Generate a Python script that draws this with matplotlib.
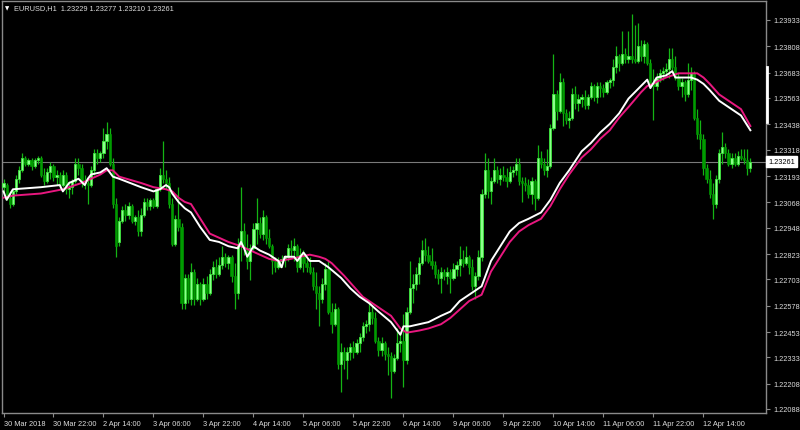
import matplotlib
matplotlib.use("Agg")
import matplotlib.pyplot as plt
import matplotlib.transforms as mtransforms
from matplotlib.lines import Line2D
import numpy as np

# ---------------- data (EURUSD H1, 30 Mar 06:00 -> 13 Apr 05:00) ----------------
opens = [
    1.2314, 1.2315, 1.2309, 1.2306, 1.2312, 1.2318, 1.2322, 1.2328, 1.2325, 1.2327,
    1.2324, 1.2327, 1.2328, 1.2320, 1.2317, 1.2321, 1.2324, 1.2319, 1.2320, 1.2315,
    1.2320, 1.2313, 1.2314, 1.2317, 1.2325, 1.2323, 1.2317, 1.2316, 1.2315, 1.2322,
    1.2330, 1.2328, 1.2330, 1.2336, 1.2339, 1.2325, 1.2306, 1.2288, 1.2298, 1.2303,
    1.2301, 1.2305, 1.2298, 1.2300, 1.2293, 1.2301, 1.2307, 1.2305, 1.2308, 1.2305,
    1.2313, 1.2320, 1.2318, 1.2316, 1.2306, 1.2287, 1.2299, 1.2295, 1.2259, 1.2271,
    1.2261, 1.2274, 1.2261, 1.2268, 1.2261, 1.2268, 1.2264, 1.2273, 1.2276, 1.2273,
    1.2277, 1.2281, 1.2278, 1.2281, 1.2272, 1.2264, 1.2287, 1.2293, 1.2285, 1.2279,
    1.2285, 1.2294, 1.2297, 1.2292, 1.2300, 1.2290, 1.2286, 1.2279, 1.2276, 1.2279,
    1.2280, 1.2281, 1.2285, 1.2284, 1.2286, 1.2276, 1.2282, 1.2278, 1.2276, 1.2274,
    1.2267, 1.2264, 1.2261, 1.2268, 1.2275, 1.2255, 1.2249, 1.2256, 1.2230, 1.2236,
    1.2232, 1.2236, 1.2238, 1.2236, 1.2240, 1.2243, 1.2248, 1.2249, 1.2255, 1.2252,
    1.2241, 1.2237, 1.2240, 1.2235, 1.2234, 1.2227, 1.2233, 1.2240, 1.2241, 1.2232,
    1.2255, 1.2266, 1.2268, 1.2273, 1.2278, 1.2284, 1.2282, 1.2279, 1.2277, 1.2273,
    1.2271, 1.2274, 1.2272, 1.2274, 1.2271, 1.2275, 1.2277, 1.2280, 1.2278, 1.2281,
    1.2276, 1.2267, 1.2272, 1.2281, 1.2311, 1.2322, 1.2312, 1.2317, 1.2322, 1.2318,
    1.2320, 1.2319, 1.2317, 1.2321, 1.2322, 1.2325, 1.2317, 1.2316, 1.2315, 1.2311,
    1.2317, 1.2309, 1.2328, 1.2325, 1.2322, 1.2324, 1.2342, 1.2358, 1.2350, 1.2364,
    1.2349, 1.2346, 1.2347, 1.2358, 1.2354, 1.2356, 1.2357, 1.2353, 1.2357, 1.2362,
    1.2357, 1.2362, 1.2361, 1.2359, 1.2364, 1.2365, 1.2371, 1.2376, 1.2373, 1.2377,
    1.2375, 1.2376, 1.2375, 1.2374, 1.2381, 1.2376, 1.2382, 1.2373, 1.2363, 1.2362,
    1.2366, 1.2368, 1.2369, 1.2370, 1.2375, 1.2371, 1.2366, 1.2362, 1.2364, 1.2358,
    1.2365, 1.2368, 1.2347, 1.2339, 1.2337, 1.2323, 1.2318, 1.2311, 1.2306, 1.2318,
    1.2330, 1.2333, 1.2330, 1.2325, 1.2328, 1.2325, 1.2329, 1.2328, 1.2327, 1.23229,
]
highs = [
    1.2318, 1.2316, 1.2312, 1.2313, 1.2320, 1.2324, 1.2330, 1.2329, 1.2328, 1.2328,
    1.2328, 1.2329, 1.2329, 1.2323, 1.2323, 1.2326, 1.2325, 1.2322, 1.2321, 1.2322,
    1.2321, 1.2317, 1.2318, 1.2328, 1.2328, 1.2325, 1.2320, 1.2319, 1.2324, 1.2332,
    1.2332, 1.2331, 1.2342, 1.2345, 1.2342, 1.2328, 1.2309, 1.2300, 1.2305, 1.2306,
    1.2307, 1.2306, 1.2301, 1.2303, 1.2304, 1.2309, 1.2309, 1.2309, 1.2309, 1.2314,
    1.2323, 1.2336, 1.2322, 1.2319, 1.2309, 1.2301, 1.2314, 1.2297, 1.2273, 1.2273,
    1.2278, 1.2275, 1.2271, 1.2269, 1.2271, 1.2272, 1.2275, 1.2279, 1.2280, 1.2281,
    1.2286, 1.2283, 1.2282, 1.2282, 1.2278, 1.2290, 1.2314, 1.2297, 1.2292, 1.2287,
    1.2297, 1.2309, 1.2300, 1.2303, 1.2301, 1.2294, 1.2287, 1.2281, 1.2281, 1.2282,
    1.2282, 1.2287, 1.2289, 1.2290, 1.2287, 1.2285, 1.2284, 1.2280, 1.2281, 1.2276,
    1.2274, 1.2267, 1.2271, 1.2278, 1.2279, 1.2259, 1.2259, 1.2257, 1.2240, 1.2238,
    1.2238, 1.2240, 1.2241, 1.2242, 1.2245, 1.2250, 1.2251, 1.2259, 1.2258, 1.2255,
    1.2243, 1.2243, 1.2241, 1.2238, 1.2236, 1.2235, 1.2247, 1.2245, 1.2254, 1.2257,
    1.2279, 1.2273, 1.2276, 1.2281, 1.2289, 1.2290, 1.2286, 1.2285, 1.2279, 1.2275,
    1.2276, 1.2275, 1.2276, 1.2275, 1.2278, 1.2279, 1.2286, 1.2284, 1.2286, 1.2282,
    1.2280, 1.2274, 1.2284, 1.2313, 1.2330, 1.2328, 1.2319, 1.2328, 1.2324, 1.2323,
    1.2324, 1.2323, 1.2324, 1.2324, 1.2328, 1.2328, 1.2319, 1.2319, 1.2318, 1.2319,
    1.2318, 1.2334, 1.2331, 1.2328, 1.2332, 1.2344, 1.2377, 1.2360, 1.2368, 1.2366,
    1.2351, 1.2350, 1.2361, 1.2362, 1.2358, 1.2358, 1.2360, 1.2358, 1.2364, 1.2363,
    1.2364, 1.2364, 1.2363, 1.2365, 1.2366, 1.2375, 1.2381, 1.2377, 1.2388, 1.2380,
    1.2388, 1.2396, 1.2391, 1.2392, 1.2384, 1.2384, 1.2383, 1.2375, 1.2370, 1.2368,
    1.2370, 1.2371, 1.2373, 1.2380, 1.2380, 1.2376, 1.2368, 1.2366, 1.2365, 1.2373,
    1.2371, 1.2369, 1.2351, 1.2346, 1.2339, 1.2325, 1.2322, 1.2316, 1.2320, 1.2332,
    1.2340, 1.2335, 1.2332, 1.2330, 1.2330, 1.2331, 1.2332, 1.2332, 1.2332, 1.23277,
]
lows = [
    1.2311, 1.2308, 1.2304, 1.2305, 1.2311, 1.2316, 1.2321, 1.2324, 1.2324, 1.2322,
    1.2323, 1.2325, 1.2319, 1.2315, 1.2316, 1.2318, 1.2317, 1.2315, 1.2313, 1.2314,
    1.2311, 1.2309, 1.2311, 1.2316, 1.2320, 1.2314, 1.2313, 1.2306, 1.2314, 1.2320,
    1.2325, 1.2326, 1.2328, 1.2332, 1.2324, 1.2304, 1.2281, 1.2286, 1.2297, 1.2298,
    1.2299, 1.2297, 1.2296, 1.2291, 1.2291, 1.2300, 1.2303, 1.2303, 1.2304, 1.2304,
    1.2312, 1.2316, 1.2313, 1.2304, 1.2286, 1.2286, 1.2293, 1.2256, 1.2256, 1.2259,
    1.2258, 1.2258, 1.2260, 1.2258, 1.2260, 1.2261, 1.2263, 1.2270, 1.2271, 1.2272,
    1.2275, 1.2276, 1.2275, 1.2269, 1.2256, 1.2261, 1.2279, 1.2282, 1.2275, 1.2270,
    1.2284, 1.2287, 1.2290, 1.2289, 1.2287, 1.2285, 1.2273, 1.2274, 1.2275, 1.2276,
    1.2276, 1.2279, 1.2281, 1.2279, 1.2274, 1.2275, 1.2274, 1.2274, 1.2273, 1.2265,
    1.2256, 1.2248, 1.2259, 1.2265, 1.2254, 1.2245, 1.2248, 1.2228, 1.2217, 1.2228,
    1.2223, 1.2232, 1.2233, 1.2235, 1.2236, 1.2241, 1.2245, 1.2246, 1.2249, 1.2240,
    1.2234, 1.2234, 1.2232, 1.2225, 1.2214, 1.2226, 1.2232, 1.2236, 1.2219, 1.2230,
    1.2254, 1.2259, 1.2265, 1.2268, 1.2277, 1.2279, 1.2278, 1.2275, 1.2271, 1.2268,
    1.2264, 1.2270, 1.2268, 1.2264, 1.2270, 1.2272, 1.2272, 1.2276, 1.2277, 1.2273,
    1.2265, 1.2261, 1.2270, 1.2279, 1.2309, 1.2309, 1.2306, 1.2316, 1.2316, 1.2315,
    1.2317, 1.2314, 1.2316, 1.2319, 1.2320, 1.2315, 1.2307, 1.2312, 1.2309, 1.2306,
    1.2303, 1.2308, 1.2323, 1.2320, 1.2319, 1.2323, 1.2341, 1.2346, 1.2349, 1.2343,
    1.2344, 1.2342, 1.2346, 1.2351, 1.2350, 1.2352, 1.2351, 1.2351, 1.2356, 1.2355,
    1.2354, 1.2357, 1.2357, 1.2358, 1.2361, 1.2362, 1.2368, 1.2369, 1.2372, 1.2373,
    1.2373, 1.2373, 1.2373, 1.2373, 1.2374, 1.2373, 1.2372, 1.2361, 1.2346, 1.2360,
    1.2364, 1.2365, 1.2367, 1.2366, 1.2369, 1.2365, 1.2360, 1.2357, 1.2355, 1.2357,
    1.2360, 1.2346, 1.2337, 1.2332, 1.2320, 1.2316, 1.2309, 1.2299, 1.2304, 1.2316,
    1.2325, 1.2328, 1.2324, 1.2323, 1.2324, 1.2324, 1.2327, 1.2325, 1.2320, 1.23210,
]
closes = [
    1.2316, 1.2309, 1.2306, 1.2312, 1.2318, 1.2322, 1.2328, 1.2325, 1.2327, 1.2324,
    1.2327, 1.2328, 1.2320, 1.2317, 1.2321, 1.2324, 1.2319, 1.2320, 1.2315, 1.2320,
    1.2313, 1.2314, 1.2317, 1.2325, 1.2323, 1.2317, 1.2316, 1.2315, 1.2322, 1.2330,
    1.2328, 1.2330, 1.2336, 1.2339, 1.2325, 1.2306, 1.2286, 1.2298, 1.2303, 1.2301,
    1.2305, 1.2298, 1.2300, 1.2293, 1.2301, 1.2307, 1.2305, 1.2308, 1.2305, 1.2313,
    1.2320, 1.2318, 1.2316, 1.2306, 1.2287, 1.2299, 1.2295, 1.2259, 1.2271, 1.2261,
    1.2274, 1.2261, 1.2268, 1.2261, 1.2268, 1.2264, 1.2273, 1.2276, 1.2273, 1.2277,
    1.2281, 1.2278, 1.2281, 1.2272, 1.2264, 1.2287, 1.2293, 1.2285, 1.2279, 1.2285,
    1.2294, 1.2297, 1.2292, 1.2300, 1.2290, 1.2286, 1.2279, 1.2276, 1.2279, 1.2280,
    1.2281, 1.2285, 1.2284, 1.2286, 1.2276, 1.2282, 1.2278, 1.2276, 1.2274, 1.2267,
    1.2264, 1.2261, 1.2268, 1.2275, 1.2255, 1.2249, 1.2256, 1.2230, 1.2236, 1.2232,
    1.2236, 1.2238, 1.2236, 1.2240, 1.2243, 1.2248, 1.2249, 1.2255, 1.2252, 1.2241,
    1.2237, 1.2240, 1.2235, 1.2234, 1.2227, 1.2233, 1.2240, 1.2241, 1.2232, 1.2255,
    1.2266, 1.2268, 1.2273, 1.2278, 1.2284, 1.2282, 1.2279, 1.2277, 1.2273, 1.2271,
    1.2274, 1.2272, 1.2274, 1.2271, 1.2275, 1.2277, 1.2280, 1.2278, 1.2281, 1.2276,
    1.2267, 1.2272, 1.2281, 1.2311, 1.2322, 1.2312, 1.2317, 1.2322, 1.2318, 1.2320,
    1.2319, 1.2317, 1.2321, 1.2322, 1.2325, 1.2317, 1.2316, 1.2315, 1.2311, 1.2317,
    1.2309, 1.2328, 1.2325, 1.2322, 1.2324, 1.2342, 1.2358, 1.2350, 1.2364, 1.2349,
    1.2346, 1.2347, 1.2358, 1.2354, 1.2356, 1.2357, 1.2353, 1.2357, 1.2362, 1.2357,
    1.2362, 1.2361, 1.2359, 1.2364, 1.2365, 1.2371, 1.2376, 1.2373, 1.2377, 1.2375,
    1.2376, 1.2375, 1.2374, 1.2381, 1.2376, 1.2382, 1.2373, 1.2363, 1.2362, 1.2366,
    1.2368, 1.2369, 1.2370, 1.2375, 1.2371, 1.2366, 1.2362, 1.2364, 1.2358, 1.2365,
    1.2368, 1.2347, 1.2339, 1.2337, 1.2323, 1.2318, 1.2311, 1.2306, 1.2318, 1.2330,
    1.2333, 1.2330, 1.2325, 1.2328, 1.2325, 1.2329, 1.2328, 1.2327, 1.2323, 1.23261,
]

# moving averages (bar index, price)
ma_white_bars = [0, 1, 3, 12, 18, 19, 21, 24, 26, 27, 28, 31, 33, 34, 35, 37, 44, 48, 50, 52,
                 53, 54, 56, 58, 60, 63, 66, 69, 72, 75, 76, 77, 78, 80, 82, 85, 88, 89, 90, 93,
                 94, 96, 98, 101, 104, 108, 111, 114, 117, 120, 124, 127, 128, 130, 133, 136,
                 140, 143, 146, 149, 152, 153, 156, 159, 162, 165, 168, 172, 175, 178, 181,
                 185, 188, 191, 194, 197, 200, 204, 206, 207, 209, 212, 214, 215, 220, 222,
                 224, 226, 229, 232, 236, 239]
ma_white = [1.2312, 1.2308, 1.2313, 1.2314, 1.2315, 1.2312, 1.2316, 1.2318, 1.2315, 1.2318,
            1.2320, 1.2321, 1.2323, 1.2321, 1.2319, 1.2318, 1.2314, 1.2312, 1.2313, 1.2315,
            1.2314, 1.2311, 1.2307, 1.2304, 1.2302, 1.2295, 1.2289, 1.2288, 1.2286, 1.2285,
            1.2288, 1.2285, 1.2281, 1.2286, 1.2284, 1.2282, 1.2279, 1.2276, 1.2281, 1.2281,
            1.2279, 1.2283, 1.2279, 1.2279, 1.2276, 1.2271, 1.2266, 1.2262, 1.2259, 1.2255,
            1.2250, 1.2244, 1.2248, 1.2248, 1.2249, 1.2250, 1.2253, 1.2255, 1.2260, 1.2263,
            1.2266, 1.2267, 1.2279, 1.2286, 1.2293, 1.2297, 1.2299, 1.2302, 1.2308, 1.2316,
            1.2322, 1.2331, 1.2335, 1.2340, 1.2344, 1.2349, 1.2356, 1.2362, 1.2365, 1.2361,
            1.2366, 1.2367, 1.2369, 1.2366, 1.2366, 1.2365, 1.2363, 1.2360, 1.2355, 1.2352,
            1.2348, 1.2341]

ma_pink_bars = [0, 3, 12, 19, 21, 25, 28, 31, 33, 35, 37, 44, 48, 52, 54, 56, 58, 60, 63, 66,
                69, 72, 76, 79, 82, 85, 88, 92, 95, 98, 101, 103, 105, 109, 112, 115, 118, 122,
                124, 127, 129, 133, 136, 140, 143, 146, 149, 153, 156, 159, 162, 165, 168, 172,
                175, 178, 181, 185, 188, 191, 194, 197, 200, 204, 206, 208, 209, 212, 214, 216,
                220, 222, 224, 226, 229, 232, 236, 239]
ma_pink = [1.2309, 1.2310, 1.2311, 1.2313, 1.2314, 1.2316, 1.2318, 1.2320, 1.2322, 1.2322,
           1.2319, 1.2316, 1.2314, 1.2313, 1.2312, 1.2309, 1.2307, 1.2306, 1.2299, 1.2292,
           1.2290, 1.2288, 1.2286, 1.2284, 1.2282, 1.2280, 1.2279, 1.2280, 1.2281, 1.2282,
           1.2281, 1.2280, 1.2278, 1.2272, 1.2267, 1.2262, 1.2259, 1.2255, 1.2253, 1.2247,
           1.2245, 1.2246, 1.2247, 1.2249, 1.2252, 1.2256, 1.2260, 1.2263, 1.2274, 1.2281,
           1.2288, 1.2293, 1.2296, 1.2299, 1.2305, 1.2313, 1.2320, 1.2328, 1.2332, 1.2337,
           1.2341, 1.2347, 1.2352, 1.2359, 1.2362, 1.2363, 1.2364, 1.2366, 1.2367, 1.2368,
           1.2368, 1.2368, 1.2366, 1.2363, 1.2358, 1.2355, 1.2351, 1.2343]

time_label_bars = [0, 16, 32, 48, 64, 80, 96, 112, 128, 144, 160, 176, 192, 208, 224]
time_labels = ["30 Mar 2018", "30 Mar 22:00", "2 Apr 14:00", "3 Apr 06:00", "3 Apr 22:00",
               "4 Apr 14:00", "5 Apr 06:00", "5 Apr 22:00", "6 Apr 14:00", "9 Apr 06:00",
               "9 Apr 22:00", "10 Apr 14:00", "11 Apr 06:00", "11 Apr 22:00", "12 Apr 14:00"]

price_ticks = [1.23933, 1.23808, 1.23683, 1.23563, 1.23438, 1.23318, 1.23193, 1.23068,
               1.22948, 1.22823, 1.22703, 1.22578, 1.22453, 1.22333, 1.22208, 1.22088]

symbol = "EURUSD,H1"
last_bar = (1.23229, 1.23277, 1.23210, 1.23261)

# ---------------- styling ----------------
BG = "black"
FRAME = "#8a8a8a"
TEXT = "#dcdcdc"
WICK = "#14b414"
BULL = "#8cff8c"
BULL_EDGE = "#3ce63c"
BEAR = "#009c00"
MA1 = "white"
MA2 = "#e8177f"
FONT = "Liberation Sans"

W, H = 800, 431
fig = plt.figure(figsize=(W / 100, H / 100), dpi=100, facecolor=BG)
ax = fig.add_axes([2 / W, 1 - 414 / H, (766 - 2) / W, (414 - 2) / H], facecolor=BG)

o = np.array(opens)
h = np.array(highs)
l = np.array(lows)
c = np.array(closes)
x = np.arange(len(c))
up = c >= o

# candles
ax.vlines(x, l, h, color=WICK, lw=0.9, zorder=2)
body = np.maximum(np.abs(c - o), 0.00002)
ax.bar(x[up], body[up], bottom=o[up], width=0.72, color=BULL,
       edgecolor=BULL_EDGE, linewidth=0.6, zorder=3)
ax.bar(x[~up], body[~up], bottom=c[~up], width=0.72, color=BEAR,
       edgecolor=BEAR, linewidth=0.4, zorder=3)

# moving averages
ax.plot(ma_pink_bars, ma_pink, color=MA2, lw=1.4, zorder=4)
ax.plot(ma_white_bars, ma_white, color=MA1, lw=1.4, zorder=5)

# current price line
ax.axhline(last_bar[3], color="#7a7a7a", lw=0.8, zorder=1)

ax.set_xlim(-0.48, 244)
ax.set_ylim(1.22069, 1.24023)

# axes / ticks
for sp in ax.spines.values():
    sp.set_color(FRAME)
    sp.set_linewidth(1.0)

ax.yaxis.tick_right()
ax.set_yticks(price_ticks)
ax.set_yticklabels([f"{p:.5f}" for p in price_ticks], fontsize=5.3, family=FONT)
ax.tick_params(axis="y", colors=FRAME, labelcolor=TEXT, length=3, width=0.8, pad=2)

ax.set_xticks(time_label_bars)
ax.set_xticklabels(time_labels, fontsize=5.3, family=FONT, ha="left")
ax.tick_params(axis="x", colors=FRAME, labelcolor=TEXT, length=3, width=0.8, pad=2)

# current price tag
trans = mtransforms.blended_transform_factory(ax.transAxes, ax.transData)
ax.text(1.003, last_bar[3], f"{last_bar[3]:.5f}", transform=trans, ha="left", va="center",
        fontsize=5.3, family=FONT, color="black",
        bbox=dict(boxstyle="square,pad=0.25", facecolor="white", edgecolor="white"),
        clip_on=False, zorder=6)

# chart-shift marker on the price scale
fig.add_artist(Line2D([767 / W, 767 / W], [1 - 68 / H, 1 - 123 / H], color="white", lw=2))

# header
fig.text(7 / W, 1 - 8.5 / H, "\u25bc", fontsize=4, color="white", ha="center", va="center")
fig.text(14 / W, 1 - 8.5 / H,
         f"{symbol}  " + " ".join(f"{v:.5f}" for v in last_bar),
         fontsize=5.3, family=FONT, color=TEXT, ha="left", va="center")

fig.savefig("out.png", dpi=100, facecolor=BG)
